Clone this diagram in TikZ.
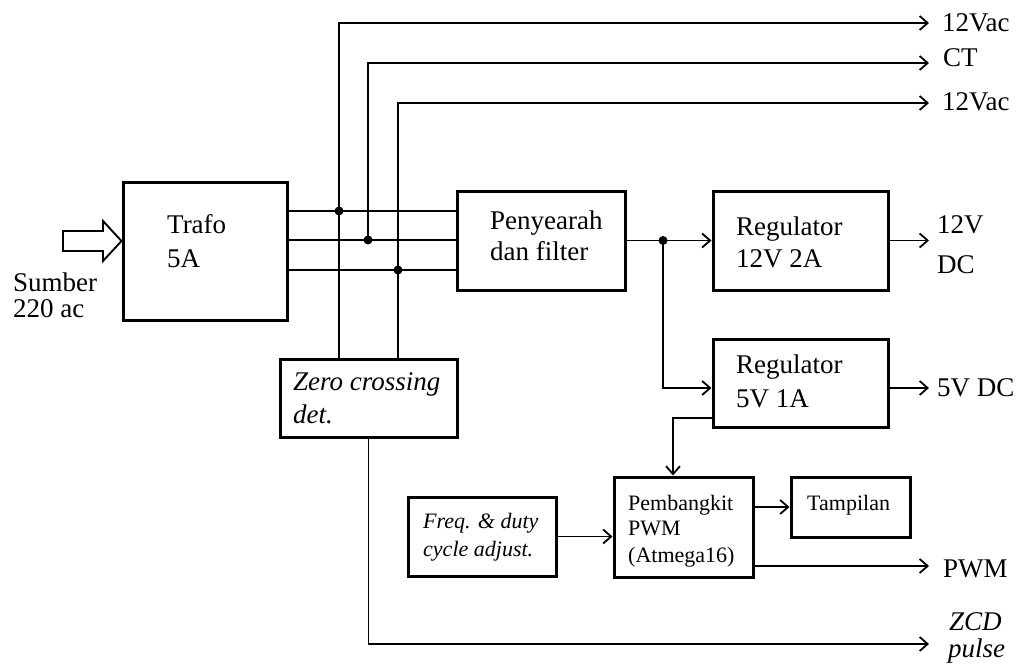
\documentclass[tikz,border=0pt]{standalone}
\usepackage{fontspec}
\setmainfont{Liberation Serif}
\usetikzlibrary{arrows.meta,calc}
\begin{document}
\begin{tikzpicture}[x=1pt,y=-1pt,
  blk/.style={draw,line width=3pt,rectangle,inner sep=0pt},
  wire/.style={line width=1.9pt},
  arr/.style={wire,-{Straight Barb[length=8pt,width=14pt,line width=1.8pt]}},
  big/.style={anchor=base west,inner sep=0pt,font=\fontsize{27}{32}\selectfont},
  bigit/.style={big,font=\fontsize{27}{32}\selectfont\itshape},
  small/.style={anchor=base west,inner sep=0pt,font=\fontsize{22}{26}\selectfont},
  smallit/.style={small,font=\fontsize{22}{26}\selectfont\itshape},
  dot/.style={circle,fill,inner sep=0pt,minimum size=9pt}]
\useasboundingbox (0,0) rectangle (1019,667);
% boxes
\node[blk,minimum width=164pt,minimum height=138pt] (trafo) at (205,251) {};
\node[blk,minimum width=168pt,minimum height=99pt] (pen) at (541,240.5) {};
\node[blk,minimum width=175pt,minimum height=99pt] (reg12) at (800.5,240.5) {};
\node[blk,minimum width=175pt,minimum height=88pt] (reg5) at (800.5,383) {};
\node[blk,minimum width=177pt,minimum height=78pt] (zc) at (368.5,398) {};
\node[blk,minimum width=148pt,minimum height=79pt] (freq) at (482,536.5) {};
\node[blk,minimum width=139pt,minimum height=100pt] (pwm) at (683.5,527) {};
\node[blk,minimum width=119pt,minimum height=60pt] (tamp) at (850.5,507) {};
% box texts
\node[big] (t1) at (167,233) {Trafo};
\node[big] (t2) at (167,267) {5A};
\node[big] (p1) at (490,229) {Penyearah};
\node[big] (p2) at (490,260) {dan filter};
\node[big] (r1) at (736,235) {Regulator};
\node[big] (r2) at (736,267) {12V 2A};
\node[big] (r3) at (736,373) {Regulator};
\node[big] (r4) at (736,407) {5V 1A};
\node[bigit] (z1) at (293,390) {Zero crossing};
\node[bigit] (z2) at (293,423) {det.};
\node[smallit] (f1) at (423,528) {Freq. \& duty};
\node[smallit] (f2) at (423,556) {cycle adjust.};
\node[small] (w1) at (628,510) {Pembangkit};
\node[small] (w2) at (628,535) {PWM};
\node[small] (w3) at (628,562) {(Atmega16)};
\node[small] (ta) at (807,510) {Tampilan};
% input
\draw[line width=1.9pt,line join=miter] (63,231) -- (103,231) -- (103,221) -- (trafo.west |- 0,241) -- (103,261) -- (103,251) -- (63,251) -- cycle;
\node[big] (s1) at (13,291) {Sumber};
\node[big] (s2) at (13,317) {220 ac};
% junctions and outputs
\coordinate (j1) at (339,211);
\coordinate (j2) at (368,240);
\coordinate (j3) at (398,270);
\coordinate (o1) at (929,23);
\coordinate (o2) at (929,63);
\coordinate (o3) at (929,103);
\coordinate (j4) at (663,240.5);
\coordinate (o4) at (929,240.5);
\coordinate (o5) at (929,388);
\coordinate (c5) at (673,418);
\coordinate (o6) at (929,566);
\coordinate (o7) at (929,644);
% wires trafo -> penyearah
\draw[wire] (trafo.east |- j1) -- (pen.west |- j1);
\draw[wire] (trafo.east |- j2) -- (pen.west |- j2);
\draw[wire] (trafo.east |- j3) -- (pen.west |- j3);
\draw[arr] (zc.north -| j1) -- (j1 |- o1) -- (o1);
\draw[arr] (j2) -- (j2 |- o2) -- (o2);
\draw[arr] (zc.north -| j3) -- (j3 |- o3) -- (o3);
\node[dot] at (j1) {};
\node[dot] at (j2) {};
\node[dot] at (j3) {};
\node[big] (l1) at (942,31.7) {12Vac};
\node[big] (l2) at (943,66.7) {CT};
\node[big] (l3) at (942,110) {12Vac};
% penyearah -> regulators
\draw[arr] (pen.east) -- (reg12.west);
\node[dot] at (j4) {};
\draw[arr] (j4) -- (j4 |- o5) -- (reg5.west |- o5);
\draw[arr] (reg12.east) -- (o4);
\node[big] (l4) at (937,233) {12V};
\node[big] (l5) at (937,273) {DC};
\draw[arr] (reg5.east |- o5) -- (o5);
\node[big] (l6) at (937,396) {5V DC};
% reg5 -> pwm
\draw[arr] (reg5.west |- c5) -- (c5) -- (pwm.north -| c5);
% freq -> pwm
\draw[arr] (freq.east) -- (freq.east -| pwm.west);
% pwm -> tampilan
\draw[arr] (pwm.east |- tamp.west) -- (tamp.west);
% pwm -> out
\draw[arr] (pwm.east |- o6) -- (o6);
\node[big] (l7) at (943,577) {PWM};
% zcd
\draw[arr] (zc.south) -- (zc.south |- o7) -- (o7);
\node[bigit] (l8) at (949,630) {ZCD};
\node[bigit] (l9) at (948,657) {pulse};
\end{tikzpicture}
\end{document}
